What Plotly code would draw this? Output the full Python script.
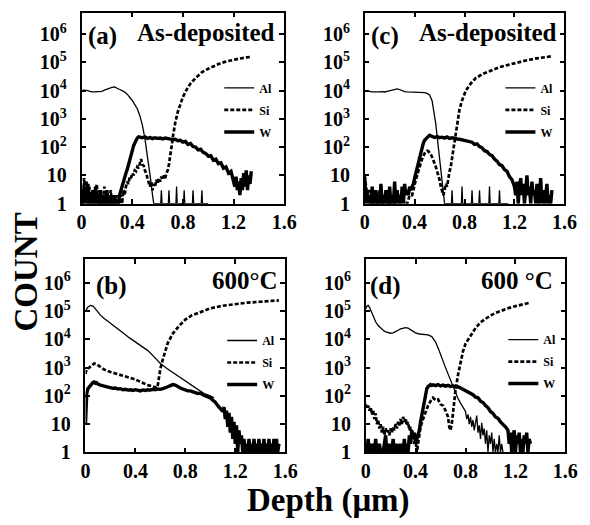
import plotly.graph_objects as go

# ---------------- data (depth in um, counts) ----------------
# Panel (a) As-deposited
a_al_x = [0.00,0.02,0.04,0.06,0.08,0.10,0.12,0.14,0.16,0.18,0.20,0.22,0.24,0.26,0.28,0.30,0.32,0.34,0.36,0.38,
          0.40,0.42,0.44,0.46,0.48,0.50,0.51,0.52,0.53,0.54,0.55,0.56,0.57,
          0.625,0.63,0.635,0.685,0.69,0.695,0.745,0.75,0.755,0.805,0.81,0.815,0.875,0.88,0.885,0.945,0.95,0.955,1.00]
a_al_y = [10000,10500,10200,9300,9000,9000,9200,9000,9500,10500,11500,12500,13000,13500,12500,11000,10000,9000,7500,6000,
          4500,3200,2300,1300,600,200,100,50,25,12,5,2,1,
          1,3,1,1,3,1,1,4,1,1,3,1,1,3,1,1,3,1,1]
a_si_x = [0.00,0.01,0.02,0.03,0.04,0.05,0.06,0.07,0.08,0.09,0.10,0.11,0.12,0.13,0.14,0.15,0.16,0.17,0.18,0.19,
          0.20,0.21,0.22,0.23,0.24,0.25,0.26,0.27,0.28,0.29,0.30,0.31,0.32,0.33,0.34,
          0.35,0.36,0.37,0.38,0.39,0.40,0.41,0.42,0.43,0.44,0.45,0.46,0.47,0.48,0.49,0.50,0.51,0.52,0.53,0.54,
          0.55,0.56,0.57,0.58,0.59,0.60,0.61,0.62,0.63,0.64,0.65,0.66,0.67,0.68,0.69,0.70,0.71,0.72,0.73,0.74,
          0.76,0.78,0.80,0.83,0.86,0.90,0.95,1.00,1.05,1.10,1.15,1.20,1.25,1.30,1.34]
a_si_y = [3,1,8,2,6,1,4,2,1,3,1,2,5,1,3,1,2,1,4,1,
          2,1,1,3,1,2,1,1,2,1,1,2,1,3,2,
          4,6,5,9,8,12,10,15,14,20,18,28,38,24,22,15,12,8,6,4,
          6,3,5,4,7,5,8,6,9,7,10,8,12,15,25,45,100,220,420,750,
          1800,3500,6000,11000,18000,28000,45000,60000,78000,95000,110000,125000,138000,150000,158000]
a_w_x = [0.00,0.01,0.02,0.03,0.04,0.05,0.06,0.07,0.08,0.09,0.10,0.11,0.12,0.13,0.14,0.15,0.16,0.17,0.18,0.19,
         0.20,0.21,0.22,0.23,0.24,0.25,0.26,0.27,0.28,0.29,0.30,
         0.31,0.32,0.33,0.34,0.35,0.36,0.37,0.38,0.39,0.40,0.41,0.42,0.43,0.44,0.45,0.46,
         0.48,0.50,0.52,0.54,0.56,0.58,0.60,0.62,0.64,0.66,0.68,0.70,0.72,
         0.74,0.76,0.78,0.80,0.82,0.84,0.86,0.88,0.90,0.92,0.94,0.96,0.98,1.00,1.02,1.04,1.06,1.08,1.10,1.12,
         1.14,1.16,1.18,1.20,
         1.21,1.22,1.23,1.24,1.25,1.26,1.27,1.28,1.29,1.30,1.31,1.32,1.33,1.34]
a_w_y = [2,1,4,1,3,5,1,2,1,3,1,4,1,2,1,3,1,1,2,1,
         3,1,1,2,1,1,2,1,1,1,2,
         3,4,6,8,12,16,25,35,55,80,110,140,180,210,230,225,
         215,230,205,220,200,215,205,210,195,210,200,190,185,
         190,170,175,150,160,125,135,105,100,80,85,65,60,48,50,35,38,26,28,18,
         20,12,14,7,
         4,9,3,6,2,8,3,12,4,15,3,10,5,14]

# Panel (c) As-deposited
c_al_x = [0.00,0.02,0.04,0.06,0.08,0.10,0.12,0.14,0.16,0.18,0.20,0.22,0.24,0.26,0.28,0.30,0.32,0.34,0.36,0.38,
          0.40,0.42,0.44,0.46,0.48,0.50,
          0.52,0.54,0.56,0.57,0.58,0.59,0.60,0.61,0.62,0.63,0.64,
          0.695,0.70,0.705,0.775,0.78,0.785,0.855,0.86,0.865,0.915,0.92,0.925,0.995,1.00,1.005,1.075,1.08,1.085,1.15]
c_al_y = [10000,9500,9300,9000,9000,8800,9000,9200,9000,9500,10000,10500,11000,11500,11000,10000,9300,9000,9000,8800,
          8800,8800,8800,8700,8500,8000,
          7000,4400,1500,650,250,90,35,14,6,2.5,1,
          1,3,1,1,4,1,1,3,1,1,3,1,1,4,1,1,3,1,1]
c_si_x = [0.00,0.02,0.04,0.06,0.08,0.10,0.12,0.14,0.16,0.18,0.20,0.22,0.24,0.26,0.28,0.30,0.32,0.34,0.36,
          0.38,0.39,0.40,0.41,0.42,0.43,0.44,0.45,0.46,0.47,0.48,0.49,0.50,0.51,0.52,0.53,0.54,0.55,0.56,0.57,
          0.58,0.59,0.60,0.61,0.62,0.63,0.64,0.65,0.66,0.67,0.68,0.69,0.70,0.71,0.72,0.73,0.74,
          0.76,0.78,0.81,0.85,0.89,0.95,1.02,1.08,1.15,1.22,1.30,1.38,1.45,1.50]
c_si_y = [10,2,3,1,2,1,3,1,2,1,1,2,1,3,1,2,1,1,2,
          2,3,5,7,10,15,22,28,38,50,60,70,75,72,65,55,45,36,28,20,
          14,10,7,4,3,2,3,5,4,8,14,21,40,80,130,250,450,
          2200,4500,10000,18000,28000,40000,55000,68000,82000,100000,120000,140000,155000,165000]
c_w_x = [0.00,0.01,0.02,0.03,0.04,0.05,0.06,0.07,0.08,0.09,0.10,0.11,0.12,0.13,0.14,0.15,0.16,0.17,0.18,0.19,
         0.20,0.21,0.22,0.23,0.24,0.25,0.26,0.27,0.28,0.29,0.30,0.31,0.32,0.33,0.34,0.35,0.36,
         0.37,0.38,0.39,0.40,0.41,0.42,0.43,0.44,0.45,0.46,0.47,0.48,0.49,0.50,0.51,0.52,0.53,0.54,
         0.56,0.58,0.60,0.62,0.64,0.66,0.68,0.70,0.72,0.74,0.76,0.78,0.80,0.82,0.84,
         0.86,0.88,0.90,0.92,0.94,0.96,0.98,1.00,1.02,1.04,1.06,1.08,1.10,1.12,1.14,1.16,1.18,1.20,
         1.21,1.22,1.23,1.24,1.25,1.26,1.27,1.28,1.29,1.30,1.31,1.32,1.33,1.34,1.35,1.36,1.37,1.38,1.39,1.40,
         1.41,1.42,1.43,1.44,1.45,1.46,1.47,1.48,1.49,1.50]
c_w_y = [8,1,3,1,2,1,4,1,1,3,1,2,1,5,1,2,1,3,1,1,
         4,1,2,1,6,1,3,1,2,1,4,1,5,2,3,2,4,
         3,4,5,8,12,20,30,50,80,110,140,175,200,220,240,265,250,235,
         220,240,215,225,210,230,205,215,200,195,190,180,170,165,155,
         150,125,130,105,95,75,70,55,50,38,32,24,22,16,14,9,7,4,
         2,6,1,4,8,2,5,1,3,10,2,4,1,6,2,3,1,5,1,2,
         8,1,3,1,2,5,1,2,1,3]

# Panel (b) 600 C
b_al_x = [0.00,0.02,0.04,0.06,0.08,0.10,0.12,0.15,0.20,0.25,0.30,0.35,0.40,0.45,0.50,0.55,0.60,0.65,0.70,0.75,
          0.80,0.85,0.90,0.95,1.00,1.03]
b_al_y = [100000,140000,160000,150000,120000,90000,72000,55000,38000,26000,17000,11500,8000,5800,4000,2400,1400,950,680,480,
          340,240,170,120,100,85]
b_si_x = [0.00,0.01,0.03,0.05,0.07,0.09,0.12,0.15,0.20,0.25,0.30,0.35,0.40,0.45,0.50,0.55,0.57,0.58,0.59,0.60,
          0.62,0.64,0.66,0.70,0.75,0.80,0.85,0.90,1.00,1.10,1.20,1.30,1.40,1.50,1.55]
b_si_y = [600,900,1000,1200,1400,1300,1050,850,700,600,520,470,380,300,240,210,190,250,500,900,
          2000,4000,7500,16000,30000,50000,70000,85000,125000,155000,180000,200000,215000,230000,240000]
b_w_x = [0.000,0.005,0.010,0.020,0.030,0.040,0.050,0.060,0.070,0.080,0.090,0.100,0.120,0.140,0.160,0.180,0.200,0.220,0.240,0.260,
         0.280,0.300,0.320,0.340,0.360,0.380,0.400,0.420,0.440,0.460,0.480,0.500,0.520,0.540,0.560,0.580,0.600,0.620,0.640,0.660,
         0.680,0.700,0.720,0.740,0.760,0.780,0.800,0.820,0.840,0.860,0.880,0.900,0.920,0.940,0.960,0.980,1.000,1.020,1.040,1.060,
         1.080,1.100,
         1.11,1.12,1.13,1.14,1.15,1.16,1.17,1.18,1.19,1.20,1.21,1.22,1.23,1.24,1.25,1.26,1.27,1.28,1.29,1.30,
         1.31,1.32,1.33,1.34,1.35,1.36,1.37,1.38,1.39,1.40,1.41,1.42,1.43,1.44,1.45,1.46,1.47,1.48,1.49,1.50,
         1.51,1.52,1.53,1.54,1.55]
b_w_y = [10,60,120,180,210,240,270,300,310,280,290,260,240,230,215,200,205,185,190,175,
         180,165,170,160,165,155,165,160,150,162,155,165,160,170,165,175,170,180,190,210,
         230,250,240,210,190,175,160,150,150,135,130,120,125,110,100,95,85,70,60,45,
         35,28,
         40,15,30,8,25,5,18,3,12,2,9,1,6,2,4,1,3,1,2,1,
         3,1,2,1,3,1,2,1,3,1,2,1,3,1,2,1,3,1,2,1,
         3,1,3,1,2]

# Panel (d) 600 C
d_al_x = [0.00,0.01,0.02,0.03,0.04,0.06,0.08,0.10,0.12,0.14,0.16,0.18,0.20,0.22,0.24,0.26,0.28,0.30,0.32,0.34,
          0.36,0.38,0.40,0.43,0.46,0.50,0.53,0.56,0.58,0.60,0.62,0.64,0.66,0.68,0.70,0.72,0.74,0.76,0.78,0.80,
          0.81,0.82,0.83,0.84,0.85,0.86,0.87,0.88,0.89,0.90,0.91,0.92,0.93,0.94,0.95,0.96,0.97,0.98,0.99,1.00,
          1.01,1.02,1.03,1.04,1.05,1.06,1.07,1.08,1.09,1.10]
d_al_y = [120000,150000,160000,140000,110000,65000,42000,31000,25000,21000,18500,17000,16500,17000,18500,21000,23500,25500,26000,25000,
          22000,19000,17000,15500,15000,14500,12500,8000,5000,2800,1700,1000,600,350,220,130,80,55,38,28,
          15,22,10,18,8,14,6,12,20,5,9,3,11,4,7,2,6,1,4,2,
          5,1,3,1,2,1,4,1,2,1]
d_si_x = [0.00,0.01,0.02,0.03,0.04,0.05,0.06,0.07,0.08,0.09,0.10,0.11,0.12,0.13,0.14,0.15,0.16,0.17,0.18,0.19,
          0.20,0.21,0.22,0.23,0.24,0.25,0.26,0.27,0.28,0.29,0.30,0.31,0.32,0.33,0.34,0.35,0.36,0.37,0.38,0.39,
          0.40,0.41,0.42,0.43,0.44,
          0.46,0.48,0.50,0.52,0.54,0.56,0.58,0.60,0.62,0.64,0.66,0.67,0.68,0.69,0.70,0.71,0.72,0.74,0.76,0.78,
          0.80,0.84,0.88,0.92,0.96,1.00,1.05,1.10,1.15,1.20,1.25,1.30,1.32]
d_si_y = [50,35,45,30,40,22,32,15,24,10,14,7,10,5,8,4,7,5,6,4,
          7,5,8,6,10,7,12,9,15,10,18,12,16,9,12,6,8,4,5,2,
          3,1,2,4,8,
          15,28,45,65,85,70,75,50,45,30,18,8,6,10,25,70,160,550,1500,3800,
          7000,13000,25000,40000,55000,70000,90000,110000,130000,150000,170000,190000,200000]
d_w_x = [0.00,0.01,0.02,0.03,0.04,0.05,0.06,0.07,0.08,0.09,0.10,0.11,0.12,0.13,0.14,0.15,0.16,0.17,0.18,0.19,
         0.20,0.21,0.22,0.23,0.24,0.25,0.26,0.27,0.28,0.29,0.30,0.31,0.32,0.33,0.34,0.35,0.36,0.37,0.38,0.39,0.40,
         0.41,0.42,0.43,0.44,0.45,0.46,0.47,0.48,0.49,0.50,0.51,0.52,0.53,0.54,
         0.56,0.58,0.60,0.62,0.64,0.66,0.68,0.70,0.72,0.74,0.76,0.78,0.80,
         0.82,0.84,0.86,0.88,0.90,0.92,0.94,0.96,0.98,1.00,1.02,1.04,1.06,1.08,1.10,1.12,1.14,
         1.15,1.16,1.17,1.18,1.19,1.20,1.21,1.22,1.23,1.24,1.25,1.26,1.27,1.28,1.29,1.30,1.31,1.32]
d_w_y = [2,1,3,1,1,2,1,1,3,1,1,2,1,1,1,2,4,1,1,2,
         1,1,3,1,1,2,1,1,2,1,1,3,1,2,1,4,2,6,3,5,2,
         3,4,6,12,22,40,80,130,180,210,240,250,235,245,
         230,250,225,240,220,235,215,225,205,210,190,170,150,
         135,115,110,90,85,65,58,45,38,28,24,18,16,12,10,8,6,
         2,5,1,3,6,1,4,2,5,1,3,1,4,2,5,1,3,2]

for xs, ys in [(a_al_x, a_al_y), (a_si_x, a_si_y), (a_w_x, a_w_y), (c_al_x, c_al_y), (c_si_x, c_si_y),
               (c_w_x, c_w_y), (b_al_x, b_al_y), (b_si_x, b_si_y), (b_w_x, b_w_y), (d_al_x, d_al_y),
               (d_si_x, d_si_y), (d_w_x, d_w_y)]:
    assert len(xs) == len(ys), (len(xs), len(ys))

x_tickvals = [0, 0.4, 0.8, 1.2, 1.6]
x_ticktext = ["0", "0.4", "0.8", "1.2", "1.6"]
y_tickvals = [1, 10, 100, 1000, 10000, 100000, 1000000]
y_ticktext = ["1", "10", "10<sup>2</sup>", "10<sup>3</sup>", "10<sup>4</sup>", "10<sup>5</sup>", "10<sup>6</sup>"]
series_names = ["Al", "Si", "W"]
panel_letters = ["(a)", "(c)", "(b)", "(d)"]
panel_titles = ["As-deposited", "As-deposited", "600°C", "600 °C"]

# ---------------- layout ----------------
W, H = 590, 525
FONT = "Liberation Serif"

def fx(p):
    return p / W

def fy(p):
    return 1 - p / H

panels = [
    dict(ax="", box=(79, 288, 13, 208), ytop=6.76, leg=(221, 75),
         data=[(a_al_x, a_al_y), (a_si_x, a_si_y), (a_w_x, a_w_y)]),
    dict(ax="2", box=(371, 577, 13, 208), ytop=6.76, leg=(511, 75),
         data=[(c_al_x, c_al_y), (c_si_x, c_si_y), (c_w_x, c_w_y)]),
    dict(ax="3", box=(83, 289, 265, 462), ytop=6.83, leg=(224, 333),
         data=[(b_al_x, b_al_y), (b_si_x, b_si_y), (b_w_x, b_w_y)]),
    dict(ax="4", box=(372, 578, 265, 462), ytop=6.83, leg=(514, 332),
         data=[(d_al_x, d_al_y), (d_si_x, d_si_y), (d_w_x, d_w_y)]),
]

line_styles = [
    dict(color="black", width=1.3),
    dict(color="black", width=2.7, dash="4px,2px"),
    dict(color="black", width=3.4),
]

fig = go.Figure()
layout = dict(
    width=W, height=H, margin=dict(l=0, r=0, t=0, b=0),
    paper_bgcolor="white", plot_bgcolor="white", showlegend=True,
)

axis_common = dict(
    showline=True, linecolor="black", linewidth=1.5, mirror="ticks",
    ticks="inside", ticklen=5, tickwidth=1.5, tickcolor="black",
    showgrid=False, zeroline=False,
    tickfont=dict(family=FONT, size=20, color="black", weight="bold"),
)

for i, p in enumerate(panels):
    ax = p["ax"]
    legname = "legend" + ax
    l, r, t, b = p["box"]
    for (xs, ys), name, st in zip(p["data"], series_names, line_styles):
        fig.add_trace(go.Scatter(
            x=xs, y=ys, mode="lines", name=name, line=st,
            xaxis="x" + ax, yaxis="y" + ax, legend=legname, legendgroup=name + ax,
        ))
    layout["xaxis" + ax] = dict(
        axis_common, domain=[fx(l), fx(r)], range=[0, 1.6], anchor="y" + ax,
        tickvals=x_tickvals, ticktext=x_ticktext,
    )
    layout["yaxis" + ax] = dict(
        axis_common, type="log", domain=[fy(b), fy(t)], range=[0, p["ytop"]], anchor="x" + ax,
        tickvals=y_tickvals, ticktext=y_ticktext, ticklabelstandoff=9,
    )
    lx, ly = p["leg"]
    layout[legname] = dict(
        x=fx(lx), y=fy(ly), xanchor="left", yanchor="top", xref="paper", yref="paper",
        bgcolor="rgba(0,0,0,0)", borderwidth=0, itemwidth=30, tracegroupgap=3,
        font=dict(family=FONT, size=12, color="black", weight="bold"),
    )

ann_font = dict(family=FONT, size=25, color="black", weight="bold")
letter_pos = [(101, 37), (392, 37), (110, 292), (392, 292)]
title_pos = [(281, 33), (571, 33), (284, 287), (567, 287)]
annotations = []
for (lx, ly), (tx, ty), letter, title in zip(letter_pos, title_pos, panel_letters, panel_titles):
    annotations.append(dict(text=letter, x=fx(lx), y=fy(ly), xref="paper", yref="paper",
                            xanchor="center", yanchor="middle", showarrow=False, font=ann_font))
    annotations.append(dict(text=title, x=fx(tx), y=fy(ty), xref="paper", yref="paper",
                            xanchor="right", yanchor="middle", showarrow=False, font=ann_font))
annotations.append(dict(text="COUNT", x=fx(22), y=fy(278), xref="paper", yref="paper", textangle=-90,
                        xanchor="center", yanchor="middle", showarrow=False,
                        font=dict(family=FONT, size=33, color="black", weight="bold")))
annotations.append(dict(text="Depth (μm)", x=fx(334), y=fy(511), xref="paper", yref="paper",
                        xanchor="center", yanchor="middle", showarrow=False,
                        font=dict(family=FONT, size=33, color="black", weight="bold")))
layout["annotations"] = annotations

fig.update_layout(**layout)
fig.write_html("out.html")
